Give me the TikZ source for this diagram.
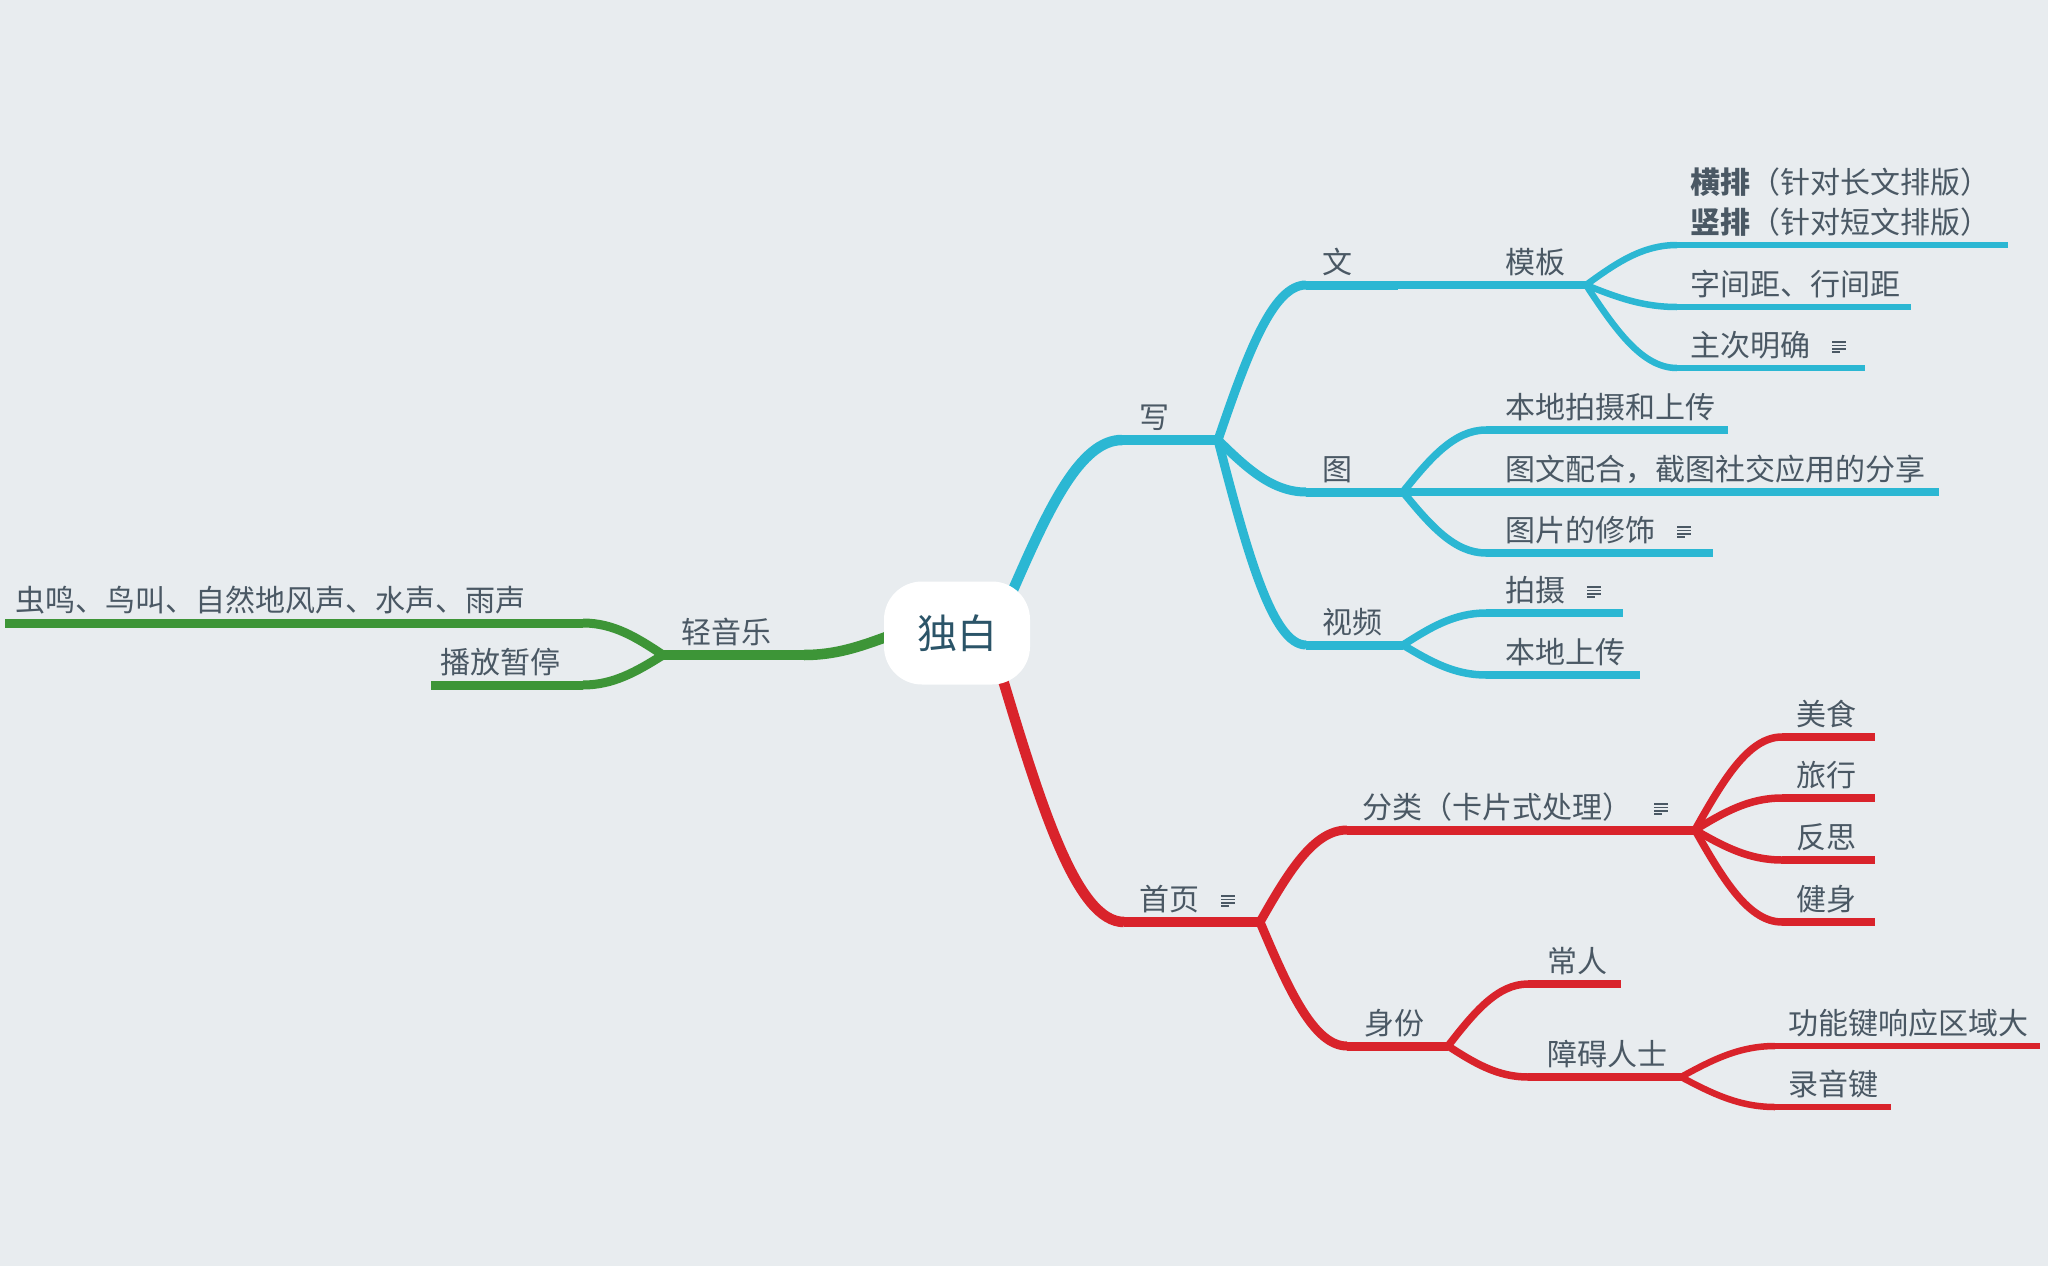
\documentclass[tikz,border=0pt]{standalone}
\usepackage{fontspec}
\setmainfont{Noto Sans CJK SC}
\usetikzlibrary{calc}
\definecolor{bgc}{RGB}{232,236,239}
\definecolor{txt}{RGB}{74,88,100}
\definecolor{roott}{RGB}{43,84,104}
\definecolor{bl}{RGB}{43,183,211}
\definecolor{rd}{RGB}{217,35,43}
\definecolor{gn}{RGB}{61,149,55}
\pgfdeclarelayer{back}
\pgfdeclarelayer{bg}
\pgfsetlayers{back,bg,main}
\newcommand\mmcurve[3]{\draw[#1] let \p1=(#2), \p2=(#3) in (\p1) .. controls ({\x1+0.33*(\x2-\x1)},{\y1+0.55*(\y2-\y1)}) and ({\x1+0.62*(\x2-\x1)},{\y2}) .. (\p2);}
\newcommand\mmtopic[6]{%
  \coordinate (#1-s) at (#2,#4);
  \coordinate (#1-e) at (#3,#4);
  \node[lab] (#1) at (#5,#4-12) {#6};}
\begin{document}
\begin{tikzpicture}[x=1pt,y=-1pt,line cap=round,
  lab/.style={anchor=base west,inner sep=0pt,text=txt,font=\fontsize{30}{40}\selectfont},
  l1/.style={line width=10.5pt},
  l2/.style={line width=9pt},
  l3/.style={line width=7.5pt},
  l4/.style={line width=6.5pt},
  noteicon/.style={inner sep=0pt,minimum width=15pt,minimum height=13pt,
    path picture={\foreach \nd/\nw in {1.5/14,4.9/14,8.3/14,11.7/8}{
      \draw[txt,line width=1.7pt,line cap=butt] ($(path picture bounding box.north west)+(0.5,\nd)$) -- ++(\nw,0);}}}]
\begin{pgfonlayer}{back}
\fill[bgc] (0,0) rectangle (2048,1266);
\end{pgfonlayer}
\useasboundingbox (0,0) rectangle (2048,1266);

% root
\node[fill=white,rounded corners=38pt,minimum width=146pt,minimum height=103pt,inner sep=0pt,
  text=roott,font=\fontsize{40}{48}\selectfont] (root) at (957,633) {独白};
\coordinate (rB) at (1013,590);
\coordinate (rR) at (1003,680);
\coordinate (rG) at (886,637);

% blue
\mmtopic{xie}{1122}{1218}{440}{1139}{写}
\mmtopic{wen}{1306}{1398}{285}{1322}{文}
\mmtopic{mb}{1490}{1586}{285}{1505}{模板}
\coordinate (hp-s) at (1677,245);
\coordinate (hp-e) at (2008,245);
\node[lab,align=left] (hp) at (1690,233) {\textbf{横排}（针对长文排版）\\\textbf{竖排}（针对短文排版）};
\mmtopic{zjj}{1677}{1911}{307}{1690}{字间距、行间距}
\mmtopic{zc}{1677}{1865}{368}{1690}{主次明确}
\node[noteicon] (zc-n) at ($(zc.base east)+(29,-9)$) {};
\mmtopic{tu}{1306}{1403}{492}{1322}{图}
\mmtopic{bd}{1486}{1728}{430}{1505}{本地拍摄和上传}
\mmtopic{tw}{1486}{1939}{492}{1505}{图文配合，截图社交应用的分享}
\mmtopic{tp}{1486}{1713}{553}{1505}{图片的修饰}
\node[noteicon] (tp-n) at ($(tp.base east)+(29,-9)$) {};
\mmtopic{sp}{1306}{1403}{645}{1322}{视频}
\mmtopic{ps}{1486}{1623}{613}{1505}{拍摄}
\node[noteicon] (ps-n) at ($(ps.base east)+(29,-9)$) {};
\mmtopic{bs}{1486}{1640}{675}{1505}{本地上传}

% red
\mmtopic{sy}{1124}{1260}{922}{1139}{首页}
\node[noteicon] (sy-n) at ($(sy.base east)+(29,-9)$) {};
\mmtopic{fl}{1347}{1695}{830}{1362}{分类（卡片式处理）}
\node[noteicon] (fl-n) at ($(fl.base east)+(29,-9)$) {};
\mmtopic{ms}{1782}{1875}{737}{1796}{美食}
\mmtopic{lx}{1782}{1875}{798}{1796}{旅行}
\mmtopic{fs}{1782}{1875}{860}{1796}{反思}
\mmtopic{js}{1782}{1875}{922}{1796}{健身}
\mmtopic{sf}{1347}{1448}{1046}{1364}{身份}
\mmtopic{cr}{1528}{1621}{984}{1547}{常人}
\mmtopic{za}{1528}{1681}{1077}{1547}{障碍人士}
\mmtopic{gj}{1775}{2040}{1046}{1788}{功能键响应区域大}
\mmtopic{ly}{1775}{1891}{1107}{1788}{录音键}

% green
\mmtopic{qy}{804}{663}{655}{681}{轻音乐}
\mmtopic{cm}{583}{5}{623}{15}{虫鸣、鸟叫、自然地风声、水声、雨声}
\mmtopic{bf}{583}{431}{685}{440}{播放暂停}

\begin{pgfonlayer}{bg}
% blue
\mmcurve{bl,l1}{rB}{xie-s}
\draw[bl,l1] (xie-s) -- (xie-e);
\mmcurve{bl,l2}{xie-e}{wen-s}
\draw[bl,l2] (wen-s) -- (wen-e);
\draw[bl,l3] (wen-e) -- (mb-s) -- (mb-e);
\mmcurve{bl,l4}{mb-e}{hp-s}
\draw[bl,l4] (hp-s) -- (hp-e);
\mmcurve{bl,l4}{mb-e}{zjj-s}
\draw[bl,l4] (zjj-s) -- (zjj-e);
\mmcurve{bl,l4}{mb-e}{zc-s}
\draw[bl,l4] (zc-s) -- (zc-e);
\mmcurve{bl,l2}{xie-e}{tu-s}
\draw[bl,l2] (tu-s) -- (tu-e);
\mmcurve{bl,l3}{tu-e}{bd-s}
\draw[bl,l3] (bd-s) -- (bd-e);
\draw[bl,l3] (tu-e) -- (tw-s) -- (tw-e);
\mmcurve{bl,l3}{tu-e}{tp-s}
\draw[bl,l3] (tp-s) -- (tp-e);
\mmcurve{bl,l2}{xie-e}{sp-s}
\draw[bl,l2] (sp-s) -- (sp-e);
\mmcurve{bl,l3}{sp-e}{ps-s}
\draw[bl,l3] (ps-s) -- (ps-e);
\mmcurve{bl,l3}{sp-e}{bs-s}
\draw[bl,l3] (bs-s) -- (bs-e);
% red
\mmcurve{rd,l1}{rR}{sy-s}
\draw[rd,l1] (sy-s) -- (sy-e);
\mmcurve{rd,l2}{sy-e}{fl-s}
\draw[rd,l2] (fl-s) -- (fl-e);
\foreach \k in {ms,lx,fs,js}{
  \mmcurve{rd,l3}{fl-e}{\k-s}
  \draw[rd,l3] (\k-s) -- (\k-e);}
\mmcurve{rd,l2}{sy-e}{sf-s}
\draw[rd,l2] (sf-s) -- (sf-e);
\mmcurve{rd,l3}{sf-e}{cr-s}
\draw[rd,l3] (cr-s) -- (cr-e);
\mmcurve{rd,l3}{sf-e}{za-s}
\draw[rd,l3] (za-s) -- (za-e);
\mmcurve{rd,l4}{za-e}{gj-s}
\draw[rd,l4] (gj-s) -- (gj-e);
\mmcurve{rd,l4}{za-e}{ly-s}
\draw[rd,l4] (ly-s) -- (ly-e);
% green
\mmcurve{gn,l1}{rG}{qy-s}
\draw[gn,l1] (qy-s) -- (qy-e);
\mmcurve{gn,l2}{qy-e}{cm-s}
\draw[gn,l2] (cm-s) -- (cm-e);
\mmcurve{gn,l2}{qy-e}{bf-s}
\draw[gn,l2] (bf-s) -- (bf-e);
\end{pgfonlayer}
\end{tikzpicture}
\end{document}
